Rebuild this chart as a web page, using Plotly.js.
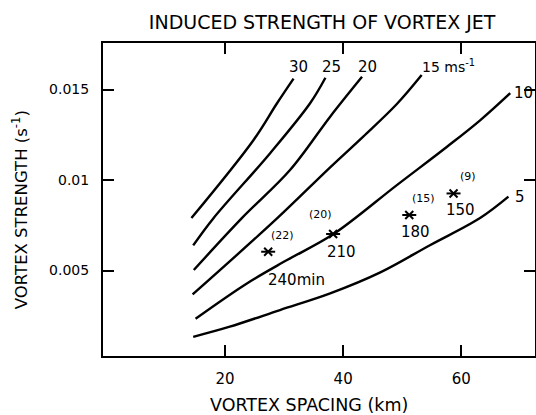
<!DOCTYPE html>
<html>
<head>
<meta charset="utf-8">
<script src="https://cdn.plot.ly/plotly-3.0.1.min.js"></script>
<style>html,body{margin:0;padding:0;background:#fff;}#chart{width:536px;height:415px;}</style>
</head>
<body>
<div id="chart"></div>
<script>
// Vortex spacing (km) and vortex strength (s^-1) for each jet speed curve
const c30x = [14.3, 24.8, 28.8, 31.6];
const c30y = [0.0079, 0.0122, 0.01424, 0.0156];
const c25x = [14.6, 18.0, 27.6, 34.4, 37.0];
const c25y = [0.00639, 0.00788, 0.01147, 0.01424, 0.01565];
const c20x = [14.7, 22.8, 31.0, 37.8, 43.2];
const c20y = [0.00503, 0.00788, 0.01055, 0.0135, 0.0157];
const c15x = [14.5, 28.8, 37.8, 43.4, 49.1, 53.3];
const c15y = [0.00368, 0.00788, 0.0107, 0.0124, 0.0142, 0.0158];
const c10x = [15.0, 23.7, 30.5, 38.3, 49.1, 57.6, 63.2, 68.3];
const c10y = [0.00234, 0.00429, 0.00558, 0.0070, 0.00972, 0.01184, 0.0133, 0.0148];
const c5x = [14.6, 20.8, 29.3, 37.8, 46.3, 54.7, 63.2, 68.0];
const c5y = [0.00134, 0.0019, 0.00282, 0.00374, 0.0049, 0.0064, 0.0079, 0.00908];
const curveLabels = ['30', '25', '20', '15 ms<sup>-1</sup>', '10', '5'];

// Observed vortices (asterisks)
const obsX = [27.3, 38.3, 51.2, 58.7];
const obsY = [0.00604, 0.00702, 0.00807, 0.00926];
const obsCount = ['(22)', '(20)', '(15)', '(9)'];
const obsTime = ['240min', '210', '180', '150'];

const xTicks = [20, 40, 60];
const yTicks = [0.005, 0.01, 0.015];
const yTickText = ['0.005', '0.01', '0.015'];

const FONT = 'DejaVu Sans, sans-serif';
const lineStyle = {color: '#000', width: 2.4, shape: 'spline', smoothing: 1};
const curves = [[c30x, c30y], [c25x, c25y], [c20x, c20y], [c15x, c15y], [c10x, c10y], [c5x, c5y]];
const traces = curves.map(c => ({x: c[0], y: c[1], mode: 'lines', line: lineStyle, hoverinfo: 'skip'}));
traces.push({x: obsX, y: obsY, mode: 'markers', marker: {symbol: 'x-thin-open', size: 8, color: '#000', line: {color: '#000', width: 2}}});
traces.push({x: obsX, y: obsY, mode: 'markers', marker: {symbol: 'line-ew-open', size: 10, color: '#000', line: {color: '#000', width: 2}}});

function ann(text, x, y, size, xanchor) {
  return {text: text, x: x, y: y, xref: 'x', yref: 'y', showarrow: false,
          xanchor: xanchor || 'center', yanchor: 'middle', font: {family: FONT, size: size, color: '#000'}};
}
const annotations = [
  ann(curveLabels[0], 32.4, 0.01626, 15),
  ann(curveLabels[1], 38.1, 0.01626, 15),
  ann(curveLabels[2], 44.2, 0.01626, 15),
  ann(curveLabels[3], 53.0, 0.0163, 14, 'left'),
  ann(curveLabels[4], 68.6, 0.0148, 15, 'left'),
  ann(curveLabels[5], 68.8, 0.00908, 15, 'left'),
  ann(obsCount[0], 29.8, 0.00691, 11),
  ann(obsCount[1], 36.1, 0.00807, 11),
  ann(obsCount[2], 53.6, 0.0090, 11),
  ann(obsCount[3], 61.2, 0.01018, 11),
  ann(obsTime[0], 32.15, 0.00448, 15),
  ann(obsTime[1], 39.8, 0.00604, 15),
  ann(obsTime[2], 52.2, 0.00714, 15),
  ann(obsTime[3], 59.8, 0.00834, 15),
  // axis titles
  {text: 'VORTEX SPACING (km)', xref: 'paper', yref: 'paper', x: 0.477, y: -0.157,
   xanchor: 'center', yanchor: 'middle', showarrow: false, font: {family: FONT, size: 17.5, color: '#000'}},
  {text: 'VORTEX STRENGTH (s<sup>-1</sup>)', xref: 'paper', yref: 'paper', x: -0.192, y: 0.466,
   xanchor: 'center', yanchor: 'middle', textangle: -90, showarrow: false, font: {family: FONT, size: 16.5, color: '#000'}}
];

const layout = {
  width: 536, height: 415,
  margin: {l: 103, r: 1, t: 43, b: 59},
  paper_bgcolor: '#fff', plot_bgcolor: '#fff',
  showlegend: false,
  font: {family: FONT, color: '#000'},
  title: {text: 'INDUCED STRENGTH OF VORTEX JET', font: {family: FONT, size: 19, color: '#000'},
          x: 0.601, xref: 'container', xanchor: 'center', y: 0.947, yref: 'container', yanchor: 'middle'},
  xaxis: {range: [-0.68, 72.5], tickvals: xTicks, ticktext: xTicks.map(String),
          ticks: 'inside', ticklen: 11, tickwidth: 2, tickcolor: '#000',
          showline: true, linewidth: 2, linecolor: '#000', mirror: 'ticks',
          showgrid: false, zeroline: false, tickfont: {family: FONT, size: 15},
          ticklabelstandoff: 8},
  yaxis: {range: [0.00028, 0.01757], tickvals: yTicks, ticktext: yTickText,
          ticks: 'inside', ticklen: 11, tickwidth: 2, tickcolor: '#000',
          showline: true, linewidth: 2, linecolor: '#000', mirror: 'ticks',
          showgrid: false, zeroline: false, tickfont: {family: FONT, size: 14},
          ticklabelstandoff: 9},
  annotations: annotations
};

Plotly.newPlot('chart', traces, layout, {staticPlot: true, displayModeBar: false});
</script>
</body>
</html>
